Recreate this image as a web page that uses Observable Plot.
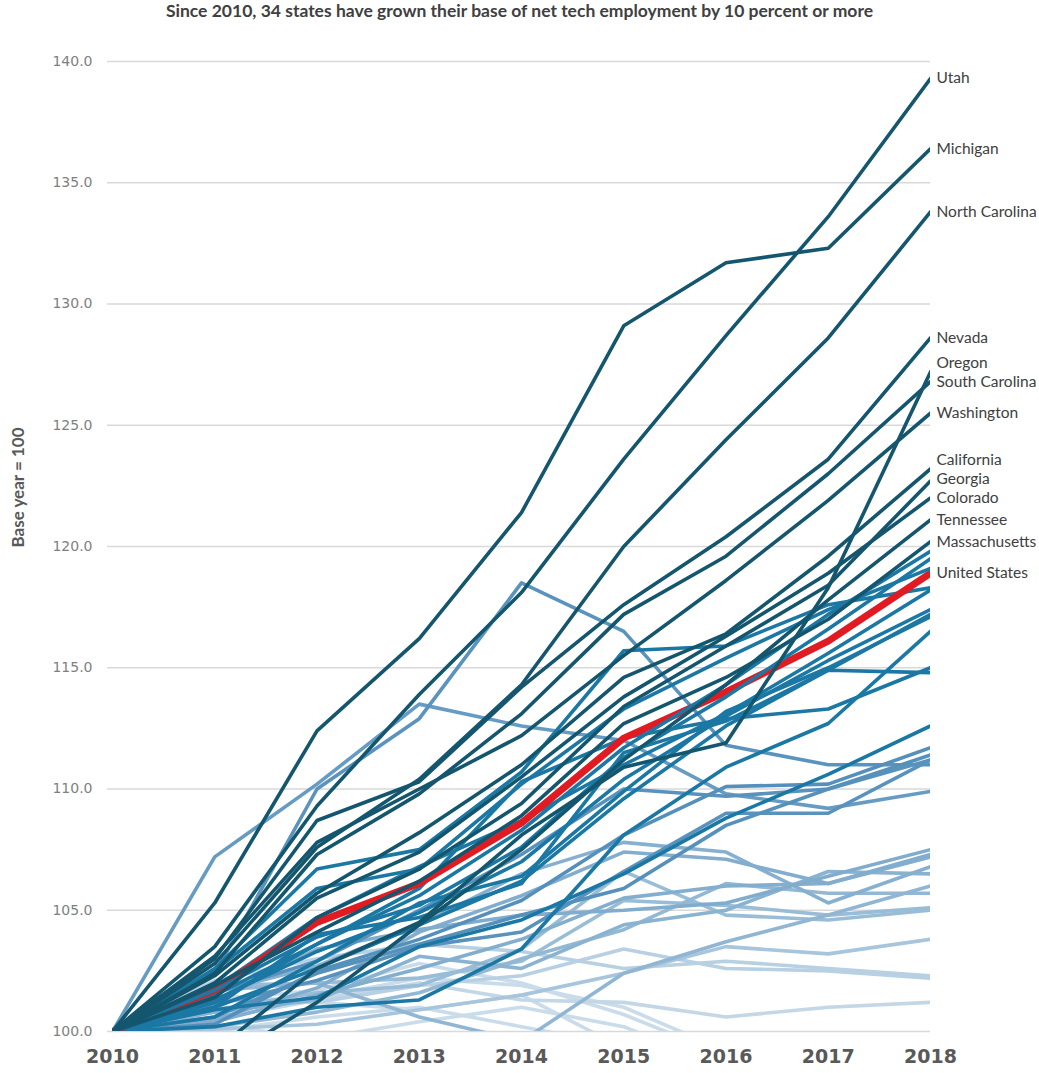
<!DOCTYPE html>
<html><head><meta charset="utf-8">
<script src="https://cdn.jsdelivr.net/npm/d3@7"></script>
<script src="https://cdn.jsdelivr.net/npm/@observablehq/plot@0.6"></script>
<style>
body{margin:0;background:#fff;}
#title{height:32px;line-height:32px;text-align:center;font:bold 17.5px Lato,"Open Sans",sans-serif;color:#404040;}
#chart svg{display:block;}
</style></head><body>
<div id="title">Since 2010, 34 states have grown their base of net tech employment by 10 percent or more</div>
<div id="chart"></div>
<script>
// ---- data ----
const years = [2010, 2011, 2012, 2013, 2014, 2015, 2016, 2017, 2018];
const yTicks = [100, 105, 110, 115, 120, 125, 130, 135, 140];

const utah          = [100, 103.5, 109.3, 113.9, 118.1, 123.6, 128.7, 133.6, 139.3];
const michigan      = [100, 105.3, 112.4, 116.2, 121.4, 129.1, 131.7, 132.3, 136.4];
const northCarolina = [100, 102.8, 107.6, 110.4, 114.3, 120.0, 124.4, 128.6, 133.8];
const nevada        = [100, 103.0, 108.7, 110.3, 114.2, 117.6, 120.4, 123.6, 128.6];
const oregon        = [100, 99.2, 102.6, 104.5, 108.1, 110.9, 111.9, 118.3, 127.2];
const southCarolina = [100, 102.4, 107.3, 109.8, 113.1, 117.2, 119.6, 123.0, 126.8];
const washington    = [100, 103.1, 107.8, 110.0, 112.2, 115.5, 118.6, 121.9, 125.5];
const california    = [100, 102.3, 105.7, 108.2, 111.0, 114.6, 116.4, 119.6, 123.2];
const georgia       = [100, 101.4, 104.7, 106.7, 109.4, 113.4, 115.9, 118.4, 122.7];
const colorado      = [100, 102.0, 105.5, 107.4, 110.5, 113.8, 116.3, 118.9, 122.0];
const tennessee     = [100, 98.6, 101.2, 104.4, 107.5, 111.2, 114.3, 117.8, 121.1];
const massachusetts = [100, 101.9, 104.1, 106.2, 108.9, 112.7, 114.6, 117.0, 120.2];
const unitedStates  = [100, 101.7, 104.5, 106.1, 108.6, 112.1, 114.0, 116.1, 118.9];

const labeledNames = ["Utah", "Michigan", "North Carolina", "Nevada", "Oregon", "South Carolina",
  "Washington", "California", "Georgia", "Colorado", "Tennessee", "Massachusetts"];
const labeledValues = [utah, michigan, northCarolina, nevada, oregon, southCarolina,
  washington, california, georgia, colorado, tennessee, massachusetts];

// other states (unlabeled)
const otherStates = [
  [100, 101.2, 103.6, 105.6, 108.3, 111.7, 114.3, 117.2, 119.8],
  [100, 101.7, 103.9, 105.2, 107.6, 111.3, 113.8, 116.6, 119.5],
  [100, 102.5, 105.9, 106.7, 110.2, 113.3, 115.4, 117.4, 119.1],
  [100, 102.6, 106.7, 107.5, 110.7, 115.7, 115.9, 117.6, 118.3],
  [100, 101.8, 104.7, 106.8, 108.7, 111.0, 113.1, 115.6, 118.2],
  [100, 101.3, 103.3, 104.9, 107.0, 110.4, 113.0, 115.3, 117.4],
  [100, 101.0, 102.6, 104.4, 106.2, 109.6, 112.6, 114.9, 117.2],
  [100, 100.6, 102.9, 105.3, 106.4, 109.9, 113.2, 115.0, 117.1],
  [100, 100.2, 101.0, 101.3, 103.4, 108.1, 110.9, 112.7, 116.5],
  [100, 101.5, 103.6, 105.9, 110.3, 112.1, 112.9, 113.3, 115.0],
  [100, 101.0, 104.0, 104.7, 106.1, 111.5, 112.8, 114.9, 114.8],
  [100, 100.9, 101.4, 103.5, 104.6, 106.5, 108.8, 110.6, 112.6],
  [100, 100.3, 102.5, 103.8, 105.4, 108.1, 110.1, 110.2, 111.7],
  [100, 100.6, 102.4, 103.6, 104.8, 105.9, 108.5, 110.0, 111.4],
  [100, 101.6, 102.9, 105.0, 107.3, 110.0, 109.7, 110.0, 111.2],
  [100, 101.1, 102.1, 103.5, 104.1, 106.6, 109.0, 109.0, 111.2],
  [100, 102.4, 110.0, 112.9, 118.5, 116.5, 111.8, 111.0, 111.0],
  [100, 107.2, 110.2, 113.5, 112.6, 112.0, 109.8, 109.2, 109.9],
  [100, 101.2, 103.4, 104.2, 104.8, 105.0, 105.3, 106.4, 107.5],
  [100, 100.4, 101.5, 102.6, 103.8, 105.5, 106.0, 106.1, 107.2],
  [100, 100.5, 101.8, 104.1, 105.6, 107.4, 107.1, 106.1, 107.3],
  [100, 101.6, 102.7, 104.4, 106.5, 107.8, 107.4, 105.3, 106.8],
  [100, 100.8, 101.3, 103.1, 102.6, 104.4, 105.0, 106.6, 106.5],
  [100, 101.7, 102.0, 100.6, 99.6, 102.4, 103.7, 104.8, 106.0],
  [100, 100.2, 100.8, 101.6, 103.0, 104.2, 106.1, 105.7, 105.7],
  [100, 101.9, 102.0, 102.2, 102.9, 105.4, 105.2, 104.8, 105.1],
  [100, 100.9, 101.6, 101.9, 103.4, 106.6, 104.8, 104.6, 105.0],
  [100, 100.1, 100.3, 100.9, 101.5, 102.4, 103.5, 103.2, 103.8],
  [100, 102.1, 103.0, 103.6, 103.3, 102.6, 102.9, 102.6, 102.3],
  [100, 101.3, 101.2, 101.9, 102.3, 103.4, 102.6, 102.5, 102.2],
  [100, 100.5, 101.3, 102.0, 101.3, 101.2, 100.6, 101.0, 101.2],
  [100, 100.8, 101.4, 102.2, 101.9, 101.0, 99.2, 98.9, 99.0],
  [100, 101.3, 101.7, 102.8, 102.0, 100.7, 99.0, 98.6, 98.8],
  [100, 100.3, 99.7, 100.4, 101.0, 100.2, 98.5, 98.0, 98.5],
  [100, 101.5, 101.2, 100.9, 101.5, 99.3, 98.6, 98.6, 98.7],
  [100, 100.0, 100.6, 101.0, 100.2, 99.4, 99.0, 98.4, 98.0]
];

// ---- build tables ----
const lightRamp = d3.interpolateRgb("#cadcea", "#5590bc");
function colorFor(f) {
  if (f >= 120.1) return "#15566f";
  if (f >= 112) return "#1b78a4";
  const t = Math.max(0, Math.min(1, (f - 100.5) / 11));
  return lightRamp(t);
}

const series = [];
labeledNames.forEach((n, i) => series.push({name: n, values: labeledValues[i], labeled: true}));
otherStates.forEach((v, i) => series.push({name: "state" + i, values: v, labeled: false}));
series.forEach(s => { s.final = s.values[s.values.length - 1]; s.color = colorFor(s.final); });
series.sort((a, b) => a.final - b.final);

const usFinal = unitedStates[unitedStates.length - 1];
const toRows = list => list.flatMap(s => s.values.map((v, j) => ({series: s.name, year: years[j], value: v, color: s.color})));
const rowsLow = toRows(series.filter(s => s.final < usFinal));
const rowsHigh = toRows(series.filter(s => s.final >= usFinal));
const usRows = unitedStates.map((v, j) => ({year: years[j], value: v}));

// labels with simple collision avoidance
const labels = series.filter(s => s.labeled).map(s => ({name: s.name, final: s.final}));
labels.push({name: "United States", final: usFinal});
labels.sort((a, b) => a.final - b.final);
const gap = 0.78;
labels.forEach((l, i) => { l.ly = i === 0 ? l.final : Math.max(l.final, labels[i - 1].ly + gap); });

const chart = Plot.plot({
  width: 1039, height: 1041,
  marginLeft: 112, marginRight: 109, marginTop: 29, marginBottom: 42,
  x: {domain: [2010, 2018]},
  y: {domain: [100, 140]},
  color: {type: "identity"},
  style: {background: "#fff"},
  marks: [
    Plot.ruleY(yTicks, {stroke: "#d9d9d9", strokeWidth: 1.3, insetLeft: -5}),
    Plot.line(rowsLow, {x: "year", y: "value", z: "series", stroke: "color", strokeWidth: 3.6, clip: true}),
    Plot.line(usRows, {x: "year", y: "value", stroke: "#e21b23", strokeWidth: 7, clip: true}),
    Plot.line(rowsHigh, {x: "year", y: "value", z: "series", stroke: "color", strokeWidth: 3.6, clip: true}),
    Plot.axisX(years, {tickSize: 0, tickPadding: 18, tickFormat: d => String(d), fontSize: 19, fontWeight: "bold", fill: "#595959", fontFamily: "DejaVu Sans, sans-serif", label: null}),
    Plot.axisY(yTicks, {tickSize: 0, tickPadding: 20, tickFormat: d3.format(".1f"), fontSize: 14, fill: "#7f7f7f", fontFamily: "DejaVu Sans, sans-serif", label: null}),
    Plot.text(["Base year = 100"], {frameAnchor: "left", textAnchor: "middle", rotate: -90, dx: -94, dy: -59, fontSize: 17, fontWeight: "bold", fill: "#595959", fontFamily: "Lato, sans-serif"}),
    Plot.text(labels, {x: () => 2018, y: "ly", text: "name", textAnchor: "start", dx: 6, fontSize: 15.5, fill: "#404040", fontFamily: "Lato, sans-serif"})
  ]
});
document.getElementById("chart").appendChild(chart);
</script>
</body></html>
